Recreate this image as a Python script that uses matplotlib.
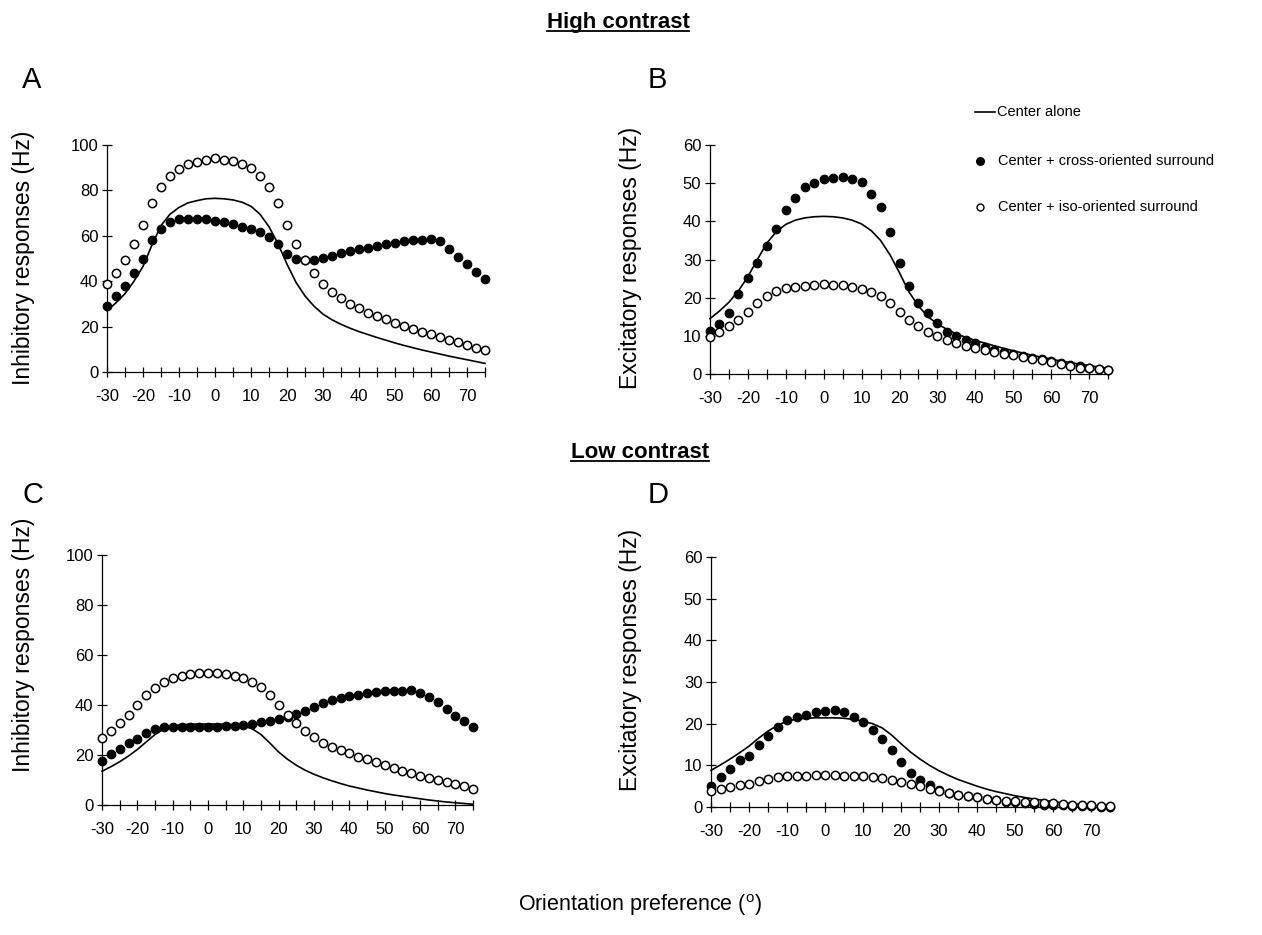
import matplotlib
matplotlib.use('Agg')
import matplotlib.pyplot as plt
from matplotlib.lines import Line2D

plt.rcParams['font.family'] = ['Liberation Sans', 'DejaVu Sans']
plt.rcParams['axes.unicode_minus'] = False
plt.rcParams['mathtext.fontset'] = 'custom'
plt.rcParams['mathtext.rm'] = 'Liberation Sans'

# ---------------- data ----------------
orientation = [-30, -27.5, -25, -22.5, -20, -17.5, -15, -12.5, -10, -7.5, -5, -2.5,
               0, 2.5, 5, 7.5, 10, 12.5, 15, 17.5, 20, 22.5, 25, 27.5, 30, 32.5,
               35, 37.5, 40, 42.5, 45, 47.5, 50, 52.5, 55, 57.5, 60, 62.5, 65,
               67.5, 70, 72.5, 75]

A_center = [27, 30.5, 34.5, 40, 46.5, 56, 64.5, 69.5, 72.5, 74.5, 75.5, 76.3, 76.5,
            76.3, 75.8, 74.8, 73, 69.5, 64, 56.5, 47.5, 39.5, 33.5, 29, 25.5, 23, 21,
            19.3, 17.8, 16.5, 15.2, 14, 12.8, 11.7, 10.7, 9.7, 8.8, 7.9, 7, 6.2, 5.4,
            4.6, 3.8]
A_cross = [29.1, 33.5, 38, 43.4, 49.7, 58, 63, 66, 67.2, 67.6, 67.6, 67.2, 66.6, 66,
           65.1, 64, 62.8, 61.6, 59.3, 56.3, 52.2, 49.9, 49.2, 49.5, 50.4, 51.3, 52.5,
           53.2, 54.1, 54.7, 55.4, 56.3, 56.9, 57.6, 58.1, 58.2, 58.5, 57.5, 54.1, 50.7,
           47.5, 44.1, 41]
A_iso = [38.7, 43.7, 49.4, 56.3, 64.7, 74.6, 81.3, 86.2, 89.3, 91.5, 92.6, 93.5, 94.1,
         93.5, 92.8, 91.8, 89.9, 86.5, 81.6, 74.6, 64.7, 56.5, 49.3, 43.7, 38.8, 35.1,
         32.4, 30.1, 28.1, 26.2, 24.7, 23.2, 21.8, 20.3, 19.1, 17.8, 16.6, 15.4, 14.3,
         13.1, 11.9, 10.7, 9.6]

B_center = [14.5, 16.5, 18.8, 21.8, 25.5, 30, 34.3, 37.3, 39.2, 40.3, 40.9, 41.2, 41.3,
            41.2, 40.9, 40.3, 39.3, 37.6, 35, 31.2, 26.5, 21.5, 17.8, 15, 13.1, 11.7,
            10.5, 9.6, 8.8, 8.1, 7.4, 6.7, 6.1, 5.5, 4.9, 4.4, 3.9, 3.4, 3.0, 2.6, 2.2,
            1.8, 1.5]
B_cross = [11.2, 13.2, 16, 21, 25.1, 29.1, 33.6, 38, 43.1, 46, 49, 50, 51, 51.4, 51.7,
           51, 50.2, 47.1, 43.8, 37.3, 29, 23.1, 18.6, 16, 13.3, 11.1, 9.9, 8.8, 8, 7.2,
           6.4, 5.8, 5.2, 4.7, 4.2, 3.8, 3.4, 3.0, 2.4, 2.0, 1.6, 1.3, 1.0]
B_iso = [9.6, 10.9, 12.5, 14.2, 16.2, 18.7, 20.5, 21.7, 22.5, 22.9, 23.1, 23.4, 23.5,
         23.4, 23.2, 22.9, 22.4, 21.5, 20.5, 18.7, 16.2, 14.2, 12.5, 11, 9.9, 8.8, 8.1,
         7.4, 6.7, 6.2, 5.8, 5.3, 4.9, 4.4, 3.9, 3.6, 3.1, 2.6, 2.0, 1.7, 1.5, 1.3, 1.0]

C_center = [13.5, 15.3, 17.3, 19.6, 22.2, 25.2, 28.2, 30.4, 31.6, 32.1, 32.3, 32.4, 32.4,
            32.4, 32.3, 32.1, 31.6, 30.5, 28.2, 24.8, 21.2, 18.3, 15.9, 13.9, 12.3, 10.9,
            9.7, 8.6, 7.6, 6.8, 6.0, 5.3, 4.6, 4.0, 3.5, 3.0, 2.5, 2.0, 1.6, 1.2, 0.9,
            0.6, 0.3]
C_cross = [17.7, 20.4, 22.3, 24.7, 26.4, 28.9, 30.4, 31.1, 31.3, 31.3, 31.2, 31.2, 31.2,
           31.3, 31.5, 31.7, 32.1, 32.5, 33.1, 33.6, 34.3, 35.1, 36.5, 37.7, 39.1, 40.7,
           42, 42.7, 43.5, 44.1, 44.7, 45.2, 45.5, 45.6, 45.7, 45.9, 44.9, 43.2, 41.2,
           38.5, 35.5, 33.5, 31.1]
C_iso = [26.8, 29.5, 32.7, 36.1, 39.9, 44, 46.9, 49.1, 50.8, 51.6, 52.4, 52.7, 52.9,
         52.7, 52.3, 51.7, 50.9, 49.2, 47.1, 44, 39.9, 36, 32.7, 29.5, 27.1, 24.9, 23.3,
         22, 20.7, 19.3, 18.3, 17.1, 15.9, 14.8, 13.7, 12.7, 11.7, 10.9, 10.1, 9.2, 8.3,
         7.5, 6.5]

D_center = [8.8, 10.1, 11.5, 13, 14.6, 16.5, 18.2, 19.6, 20.6, 21.1, 21.3, 21.4, 21.4,
            21.4, 21.3, 21.0, 20.6, 20.0, 19.0, 17.3, 15.2, 13.2, 11.5, 10.0, 8.7, 7.6,
            6.6, 5.8, 5.0, 4.3, 3.7, 3.2, 2.7, 2.3, 1.9, 1.6, 1.3, 1.0, 0.8, 0.6, 0.4,
            0.3, 0.2]
D_cross = [5.1, 7.1, 9.1, 11.2, 12.3, 15, 17.1, 19.1, 20.8, 21.7, 22.2, 22.8, 23.1, 23.2,
           22.8, 21.6, 20.4, 18.6, 16.3, 13.8, 10.7, 8.2, 6.6, 5.2, 4.2, 3.4, 2.9, 2.6,
           2.4, 2.0, 1.6, 1.3, 1.1, 0.9, 0.8, 0.6, 0.5, 0.4, 0.3, 0.2, 0.2, 0.1, 0.1]
D_iso = [3.8, 4.3, 4.8, 5.2, 5.6, 6.2, 6.7, 7.1, 7.4, 7.5, 7.5, 7.6, 7.6, 7.6, 7.5, 7.5,
         7.4, 7.2, 7.0, 6.6, 6.1, 5.5, 5.0, 4.3, 3.8, 3.4, 3.0, 2.6, 2.3, 2.0, 1.8, 1.5,
         1.4, 1.3, 1.1, 1.0, 0.9, 0.7, 0.6, 0.5, 0.4, 0.3, 0.2]

x_ticks = [-30, -25, -20, -15, -10, -5, 0, 5, 10, 15, 20, 25, 30, 35, 40, 45, 50, 55,
           60, 65, 70, 75]
x_ticklabels = ['-30', '', '-20', '', '-10', '', '0', '', '10', '', '20', '', '30', '',
                '40', '', '50', '', '60', '', '70', '']
inh_ticks = [0, 20, 40, 60, 80, 100]
exc_ticks = [0, 10, 20, 30, 40, 50, 60]

legend_labels = ['Center alone', 'Center + cross-oriented surround',
                 'Center + iso-oriented surround']

# ---------------- figure ----------------
W, H = 1262, 935
fig = plt.figure(figsize=(W / 100, H / 100), dpi=100)


def fx(px):
    return px / W


def fy(py):
    return 1 - py / H


def panel(rect, center, cross, iso, yticks, ymax):
    ax = fig.add_axes(rect)
    ax.plot(orientation, center, color='black', lw=1.2, zorder=2, clip_on=False)
    ax.plot(orientation, cross, 'o', ms=6.2, mfc='black', mec='black', mew=0.8,
            zorder=3, clip_on=False)
    ax.plot(orientation, iso, 'o', ms=6.0, mfc='white', mec='black', mew=1.1,
            zorder=4, clip_on=False)
    ax.set_xlim(-30, 75)
    ax.set_ylim(0, ymax)
    ax.set_xticks(x_ticks)
    ax.set_xticklabels(x_ticklabels)
    ax.set_yticks(yticks)
    ax.set_yticklabels([str(t) for t in yticks])
    for s in ('top', 'right'):
        ax.spines[s].set_visible(False)
    for s in ('left', 'bottom'):
        ax.spines[s].set_linewidth(0.9)
    ax.tick_params(axis='both', direction='inout', length=6.5, width=0.9,
                   labelsize=12)
    ax.tick_params(axis='x', pad=9)
    ax.tick_params(axis='y', pad=3)
    ax.patch.set_visible(False)
    return ax


axA = panel([fx(107), fy(372), fx(485) - fx(107), (372 - 145) / H],
            A_center, A_cross, A_iso, inh_ticks, 100)
axB = panel([fx(710), fy(374), fx(1108) - fx(710), (374 - 145) / H],
            B_center, B_cross, B_iso, exc_ticks, 60)
axC = panel([fx(102), fy(805), fx(473) - fx(102), (805 - 555) / H],
            C_center, C_cross, C_iso, inh_ticks, 100)
axD = panel([fx(711), fy(807), fx(1110) - fx(711), (807 - 557) / H],
            D_center, D_cross, D_iso, exc_ticks, 60)

# y labels
ylab_fs = 16.5
fig.text(fx(24), fy(258), 'Inhibitory responses (Hz)', rotation=90, ha='center',
         va='center', fontsize=ylab_fs)
fig.text(fx(630), fy(258), 'Excitatory responses (Hz)', rotation=90, ha='center',
         va='center', fontsize=ylab_fs)
fig.text(fx(24), fy(645), 'Inhibitory responses (Hz)', rotation=90, ha='center',
         va='center', fontsize=ylab_fs)
fig.text(fx(630), fy(660), 'Excitatory responses (Hz)', rotation=90, ha='center',
         va='center', fontsize=ylab_fs)

# panel letters
for letter, x, y in [('A', 22, 88), ('B', 648, 88), ('C', 22, 503), ('D', 648, 503)]:
    fig.text(fx(x), fy(y), letter, ha='left', va='baseline', fontsize=21)

# section titles, underlined
renderer = fig.canvas.get_renderer()
for title, cx, by in [('High contrast', 618, 28), ('Low contrast', 640, 458)]:
    t = fig.text(fx(cx), fy(by), title, ha='center', va='baseline', fontsize=16,
                 fontweight='bold',
                 family=['Liberation Sans Narrow', 'Liberation Sans'])
    bb = t.get_window_extent(renderer=renderer)
    fig.add_artist(Line2D([bb.x0 / W, bb.x1 / W], [fy(by + 3), fy(by + 3)],
                          transform=fig.transFigure, color='black', lw=1.3))

# legend (manual)
fig.add_artist(Line2D([fx(975), fx(995)], [fy(112), fy(112)],
                      transform=fig.transFigure, color='black', lw=1.2))
fig.text(fx(997), fy(112), legend_labels[0], ha='left', va='center', fontsize=10.5)
fig.add_artist(Line2D([fx(980)], [fy(161)], transform=fig.transFigure, marker='o',
                      ms=5.5, mfc='black', mec='black', ls='none'))
fig.text(fx(998), fy(161), legend_labels[1], ha='left', va='center', fontsize=10.5)
fig.add_artist(Line2D([fx(980)], [fy(207)], transform=fig.transFigure, marker='o',
                      ms=5.0, mfc='white', mec='black', mew=1.0, ls='none'))
fig.text(fx(998), fy(207), legend_labels[2], ha='left', va='center', fontsize=10.5)

# common x label
fig.text(fx(640), fy(905), r'Orientation preference ($^{\mathrm{o}}$)', ha='center',
         va='center', fontsize=15.5)

fig.savefig('out.png', dpi=100)
